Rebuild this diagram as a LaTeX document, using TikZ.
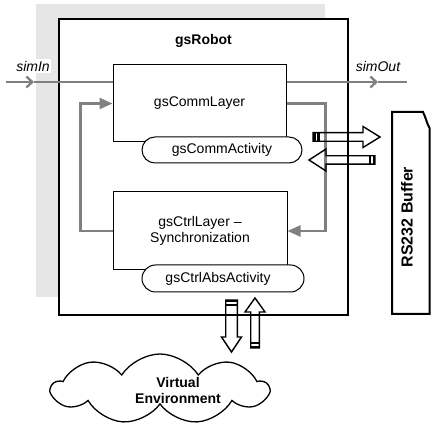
\documentclass[tikz,border=0pt]{standalone}
\usepackage{fontspec}
\setmainfont{Liberation Sans}
\usetikzlibrary{arrows.meta,shapes.misc,shapes.symbols}
\definecolor{bggray}{HTML}{E6E6E6}
\definecolor{wiregray}{HTML}{808080}

% Hollow interface arrow with a striped tail.
% #1 tail point, #2 direction angle, #3 length, #4 half shaft width,
% #5 half head width, #6 head length
\newcommand\ifacearrow[6]{%
  \begin{scope}[shift={#1},rotate=#2]
    \draw[ifline] (0,-#4) -- ({#3-#6},-#4) -- ({#3-#6},-#5) -- (#3,0)
      -- ({#3-#6},#5) -- ({#3-#6},#4) -- (0,#4) -- cycle;
    \fill (0,-#4) rectangle (2.5,#4);
    \fill (4,-#4) rectangle (6.5,#4);
  \end{scope}}

\begin{document}
\begin{tikzpicture}[x=1pt,y=-1pt,
  font=\fontsize{14}{16}\selectfont,
  layerbox/.style={draw, line width=1pt, fill=white, inner sep=0pt},
  pill/.style={draw, line width=1pt, fill=white, rounded rectangle, inner sep=0pt},
  wire/.style={wiregray, line width=2.5pt},
  thinwire/.style={wiregray, line width=1.1pt},
  feedback/.style={wiregray, line width=2.3pt, -{Triangle[length=13pt,width=11pt]}},
  chevron/.style={wiregray, line width=2.3pt, -{Straight Barb[length=6pt,width=11pt]}},
  ifline/.style={draw=black, line width=1.4pt, line join=miter},
  sigtext/.style={font=\fontsize{14}{16}\selectfont\itshape},
  boldtext/.style={font=\fontsize{14}{16}\selectfont\bfseries}]

\useasboundingbox (0,0) rectangle (431,430);

% backdrop and the robot component
\fill[bggray] (36,4) rectangle (325,297);
\node[draw, line width=2pt, fill=white, minimum width=289pt, minimum height=296pt,
      inner sep=0pt] (robot) at (203.5,167) {};
\node[boldtext] (robotname) at (203.5,41) {gsRobot};

% layers and their activities
\node[layerbox, minimum width=173pt, minimum height=77pt] (comm) at (199.5,103.5) {gsCommLayer};
\node[pill, minimum width=160pt, minimum height=26pt] (commact) at (222,150) {gsCommActivity};
\node[layerbox, minimum width=174pt, minimum height=78pt, align=center] (ctrl) at (200,231)
  {gsCtrlLayer –\\Synchronization};
\node[pill, minimum width=162pt, minimum height=27pt] (ctrlact) at (223,278.5) {};
\node (ctrlacttext) at (218,278.5) {gsCtrlAbsActivity};

% simulation signals
\coordinate (simin) at (6,82);
\coordinate (inbarb) at (34,82);
\coordinate (simout) at (407,82);
\coordinate (outbarb) at (378,82);
\draw[chevron] (simin) -- (inbarb);
\draw[wire] (inbarb) -- (simin -| robot.west);
\draw[thinwire] (simin -| robot.west) -- (simin -| comm.west);
\draw[thinwire] (simout -| comm.east) -- (simout -| robot.east);
\draw[chevron] (simout -| robot.east) -- (outbarb);
\draw[wire] (outbarb) -- (simout);
\node[sigtext, fill=white, inner sep=1.5pt] (simintext) at (33,66) {simIn};
\node[sigtext] (simouttext) at (378,66) {simOut};

% feedback between the layers
\draw[feedback] (ctrl.west) -- ++(-32,0) |- (comm.west);
\draw[feedback] (comm.east) -- ++(39,0) |- (ctrl.east);

% interface arrows
\ifacearrow{(313,137)}{0}{67}{4.3}{10.5}{17}
\ifacearrow{(375,160)}{180}{66}{4.2}{11}{17}
\ifacearrow{(231.5,300)}{-90}{52}{5.8}{10}{15}
\ifacearrow{(255,348)}{90}{50}{4.3}{10}{14}

% serial buffer
\draw[line width=2pt, line join=miter] (392,112) -- (423,112)
  .. controls (426,118) and (427,124) .. (429.5,128) -- (429.5,314) -- (392,314) -- cycle;
\node[rotate=90, font=\fontsize{16}{18}\selectfont\bfseries] (buffertext) at (407,217) {RS232 Buffer};

% virtual environment
\node[cloud, draw, line width=1.3pt, cloud puffs=9, cloud puff arc=115, aspect=3.1,
      minimum width=216pt, minimum height=70pt, inner sep=0pt] (env) at (160,389) {};
\node[boldtext, align=center] (envtext) at (178,390) {Virtual\\Environment};
\end{tikzpicture}
\end{document}
